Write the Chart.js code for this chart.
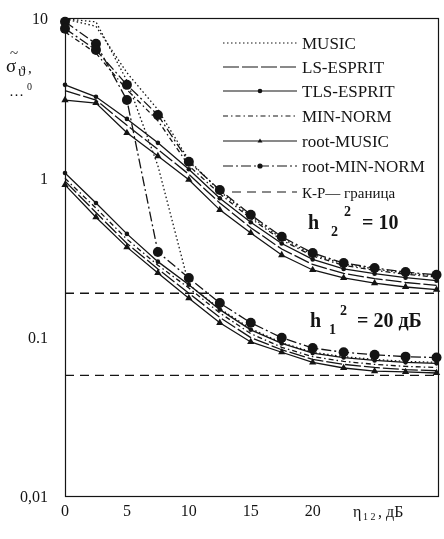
<!DOCTYPE html>
<html lang="ru">
<head>
<meta charset="UTF-8">
<title>σ(η) — MUSIC / ESPRIT / MIN-NORM</title>
<script src="https://cdn.jsdelivr.net/npm/chart.js"></script>
<style>
	html, body { margin: 0; padding: 0; background: #fff; overflow: hidden; }
	canvas { display: block; }
</style>
</head>
<body>
<canvas id="grafico" width="444" height="539"></canvas>
<script>
	// отношение сигнал/шум, дБ
	var snr = [0, 2.5, 5, 7.5, 10, 12.5, 15, 17.5, 20, 22.5, 25, 27.5, 30];

	// источник 2 (h2^2 = 10)
	var music2      = [10, 9.0, 4.6, 2.7, 1.3, 0.83, 0.575, 0.42, 0.333, 0.29, 0.27, 0.254, 0.244];
	var lsEsprit2   = [3.55, 3.1, 2.15, 1.52, 1.06, 0.70, 0.49, 0.36, 0.288, 0.253, 0.235, 0.222, 0.213];
	var tlsEsprit2  = [3.86, 3.25, 2.36, 1.67, 1.14, 0.75, 0.53, 0.39, 0.31, 0.27, 0.252, 0.238, 0.228];
	var minNorm2    = [8.3, 6.1, 3.6, 2.3, 1.2, 0.80, 0.56, 0.41, 0.326, 0.284, 0.265, 0.25, 0.24];
	var rootMusic2  = [3.1, 2.97, 1.93, 1.38, 0.98, 0.634, 0.454, 0.33, 0.266, 0.237, 0.22, 0.208, 0.2];
	var rootMinNorm2 = [8.7, 6.4, 3.86, 2.5, 1.27, 0.845, 0.59, 0.43, 0.34, 0.294, 0.274, 0.258, 0.248];

	// источник 1 (h1^2 = 20 дБ)
	var music1      = [10, 9.6, 4.1, 1.2, 0.215, 0.152, 0.114, 0.093, 0.081, 0.076, 0.073, 0.071, 0.07];
	var lsEsprit1   = [0.96, 0.61, 0.39, 0.27, 0.19, 0.134, 0.1, 0.084, 0.073, 0.068, 0.065, 0.063, 0.062];
	var tlsEsprit1  = [1.08, 0.70, 0.448, 0.30, 0.215, 0.15, 0.112, 0.092, 0.08, 0.075, 0.072, 0.07, 0.069];
	var minNorm1    = [1.0, 0.65, 0.415, 0.285, 0.205, 0.143, 0.106, 0.087, 0.076, 0.071, 0.068, 0.066, 0.065];
	var rootMusic1  = [0.91, 0.57, 0.37, 0.255, 0.177, 0.124, 0.094, 0.081, 0.07, 0.0645, 0.0617, 0.061, 0.06];
	var rootMinNorm1 = [9.6, 7.0, 3.1, 0.345, 0.237, 0.165, 0.124, 0.1, 0.086, 0.081, 0.078, 0.076, 0.075];

	// граница Крамера-Рао
	var kpX = [0, 30];
	var kp2 = [0.19, 0.19];
	var kp1 = [0.058, 0.058];

	var yTickValues = [0.01, 0.1, 1, 10];
	var yTickLabels = ['0,01', '0.1', '1', '10'];
	var xTickValues = [0, 5, 10, 15, 20];

	var serif = "'Liberation Serif', 'DejaVu Serif', serif";
	var tinta = '#141414';

	var estilos = {
		'MUSIC':        { borderDash: [1.5, 2.5], pointRadius: 0 },
		'LS-ESPRIT':    { borderDash: [16, 3], pointRadius: 0 },
		'TLS-ESPRIT':   { borderDash: [], pointStyle: 'circle', pointRadius: 2.3 },
		'MIN-NORM':     { borderDash: [5, 3, 1.5, 3], pointRadius: 0 },
		'root-MUSIC':   { borderDash: [], pointStyle: 'triangle', pointRadius: 4.2 },
		'root-MIN-NORM': { borderDash: [10, 3, 2, 3], pointStyle: 'circle', pointRadius: 5 },
		'К-Р— граница': { borderDash: [9, 6], pointRadius: 0 }
	};

	function linha(nome, xs, ys) {
		var e = estilos[nome];
		return {
			label: nome,
			data: xs.map(function (x, i) { return { x: x, y: ys[i] }; }),
			borderColor: tinta,
			backgroundColor: tinta,
			borderWidth: 1.3,
			borderDash: e.borderDash,
			pointStyle: e.pointStyle || 'circle',
			pointRadius: e.pointRadius,
			pointBorderWidth: 0,
			pointHoverRadius: 0,
			tension: 0,
			clip: false
		};
	}

	var datasets = [
		linha('root-MIN-NORM', snr, rootMinNorm2),
		linha('root-MUSIC', snr, rootMusic2),
		linha('TLS-ESPRIT', snr, tlsEsprit2),
		linha('MIN-NORM', snr, minNorm2),
		linha('LS-ESPRIT', snr, lsEsprit2),
		linha('MUSIC', snr, music2),
		linha('root-MIN-NORM', snr, rootMinNorm1),
		linha('root-MUSIC', snr, rootMusic1),
		linha('TLS-ESPRIT', snr, tlsEsprit1),
		linha('MIN-NORM', snr, minNorm1),
		linha('LS-ESPRIT', snr, lsEsprit1),
		linha('MUSIC', snr, music1),
		linha('К-Р— граница', kpX, kp2),
		linha('К-Р— граница', kpX, kp1)
	];

	var legendaNomes = ['MUSIC', 'LS-ESPRIT', 'TLS-ESPRIT', 'MIN-NORM', 'root-MUSIC', 'root-MIN-NORM', 'К-Р— граница'];
	var legendaY = [43, 67, 91, 116, 141, 166, 192];

	function marca(ctx, estilo, x, y, r) {
		ctx.beginPath();
		if (estilo === 'triangle') {
			ctx.moveTo(x, y - r);
			ctx.lineTo(x + r * 0.95, y + r * 0.6);
			ctx.lineTo(x - r * 0.95, y + r * 0.6);
			ctx.closePath();
		} else {
			ctx.arc(x, y, r, 0, Math.PI * 2);
		}
		ctx.fill();
	}

	var moldura = {
		id: 'moldura',
		beforeDatasetsDraw: function (chart) {
			var a = chart.chartArea, ctx = chart.ctx;
			ctx.save();
			ctx.strokeStyle = tinta;
			ctx.lineWidth = 1.2;
			ctx.strokeRect(a.left + 0.5, a.top - 0.5, a.right - a.left - 1, a.bottom - a.top);
			ctx.restore();
		},
		afterDraw: function (chart) {
			var ctx = chart.ctx;
			var sx = chart.scales.x, sy = chart.scales.y;
			ctx.save();
			ctx.fillStyle = tinta;
			ctx.strokeStyle = tinta;

			// подписи делений
			ctx.font = '16px ' + serif;
			ctx.textBaseline = 'middle';
			ctx.textAlign = 'right';
			yTickValues.forEach(function (v, k) {
				ctx.fillText(yTickLabels[k], 48, sy.getPixelForValue(v) + 1);
			});
			ctx.textAlign = 'center';
			xTickValues.forEach(function (v) {
				ctx.fillText(String(v), sx.getPixelForValue(v), 512);
			});
			ctx.textBaseline = 'alphabetic';
			ctx.textAlign = 'left';

			// легенда
			for (var i = 0; i < legendaNomes.length; i++) {
				var e = estilos[legendaNomes[i]];
				var y = legendaY[i];
				var x0 = legendaNomes[i] === 'К-Р— граница' ? 232 : 223;
				ctx.lineWidth = 1.2;
				ctx.setLineDash(e.borderDash);
				ctx.beginPath();
				ctx.moveTo(x0, y);
				ctx.lineTo(297, y);
				ctx.stroke();
				ctx.setLineDash([]);
				if (e.pointRadius) marca(ctx, e.pointStyle, 260, y, Math.min(e.pointRadius, 2.6));
				ctx.font = (legendaNomes[i] === 'К-Р— граница' ? '15px ' : '17px ') + serif;
				ctx.fillText(legendaNomes[i], 302, y + 6);
			}

			// подписи кривых
			ctx.font = 'bold 20px ' + serif;
			ctx.fillText('h', 308, 229);
			ctx.fillText('= 10', 362, 229);
			ctx.fillText('h', 310, 327);
			ctx.fillText('= 20 дБ', 357, 327);
			ctx.font = 'bold 14px ' + serif;
			ctx.fillText('2', 331, 236);
			ctx.fillText('2', 344, 216);
			ctx.fillText('1', 329, 334);
			ctx.fillText('2', 340, 315);

			// ось y
			ctx.font = '19px ' + serif;
			ctx.fillText('σ', 6, 72);
			ctx.font = '15px ' + serif;
			ctx.fillText('~', 10, 58);
			ctx.fillText('ϑ', 18, 76);
			ctx.fillText(',', 28, 73);
			ctx.fillText('…', 9, 96);
			ctx.font = '10px ' + serif;
			ctx.fillText('0', 27, 90);

			// ось x
			ctx.font = '16px ' + serif;
			ctx.fillText('η', 353, 517);
			ctx.fillText(', дБ', 378, 517);
			ctx.font = '10px ' + serif;
			ctx.fillText('1 2', 363, 520);
			ctx.restore();
		}
	};

	var ctx = document.getElementById('grafico').getContext('2d');
	var grafico = new Chart(ctx, {
		type: 'line',
		data: { datasets: datasets },
		plugins: [moldura],
		options: {
			responsive: false,
			animation: false,
			events: [],
			layout: { padding: { top: 19, right: 1, left: 65, bottom: 42 } },
			plugins: {
				legend: { display: false },
				tooltip: { enabled: false }
			},
			scales: {
				x: {
					type: 'linear',
					min: 0,
					max: 30.2,
					grid: { display: false, drawTicks: false },
					border: { display: false },
					ticks: { display: false }
				},
				y: {
					type: 'logarithmic',
					min: 0.01,
					max: 10,
					grid: { display: false, drawTicks: false },
					border: { display: false },
					ticks: { display: false }
				}
			}
		}
	});
</script>
</body>
</html>
